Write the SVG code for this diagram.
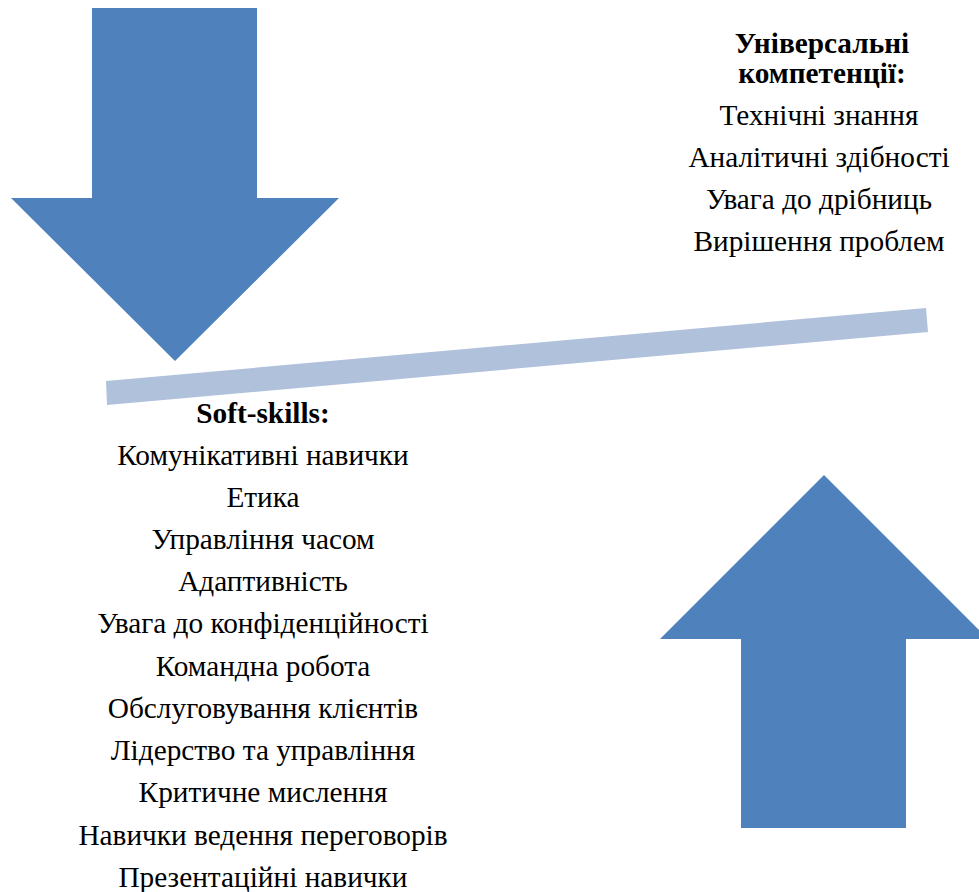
<svg xmlns="http://www.w3.org/2000/svg" width="979" height="892" viewBox="0 0 979 892">
<style>
.arrow{fill:#4F81BD;}
.bar{fill:#B0C1DC;}
text{font-family:"Liberation Serif","Times New Roman",serif;font-size:29.3px;fill:#000;text-anchor:middle;}
.b{font-weight:bold;}
</style>
<rect width="979" height="892" fill="#fff"/>
<g id="arrow-down"><polygon class="arrow" points="92,8 257,8 257,198 339,198 175,361 11,198 92,198"/></g>
<g id="arrow-up"><polygon class="arrow" points="824,475 988,639 906,639 906,828 741,828 741,639 660,639"/></g>
<g id="connectors"><polygon class="bar" points="106,381 926,308 928,332 107,405"/></g>
<g id="universal">
<text class="b" x="822" y="53">Універсальні</text>
<text class="b" x="822" y="83">компетенції:</text>
<text x="819" y="125">Технічні знання</text>
<text x="819" y="167">Аналітичні здібності</text>
<text x="819" y="209">Увага до дрібниць</text>
<text x="819" y="251">Вирішення проблем</text>
</g>
<g id="soft-skills">
<text class="b" x="263" y="423">Soft-skills:</text>
<text x="263" y="465">Комунікативні навички</text>
<text x="263" y="507">Етика</text>
<text x="263" y="549">Управління часом</text>
<text x="263" y="591">Адаптивність</text>
<text x="263" y="633">Увага до конфіденційності</text>
<text x="263" y="676">Командна робота</text>
<text x="263" y="718">Обслуговування клієнтів</text>
<text x="263" y="760">Лідерство та управління</text>
<text x="263" y="802">Критичне мислення</text>
<text x="263" y="845">Навички ведення переговорів</text>
<text x="263" y="887">Презентаційні навички</text>
</g>
</svg>
